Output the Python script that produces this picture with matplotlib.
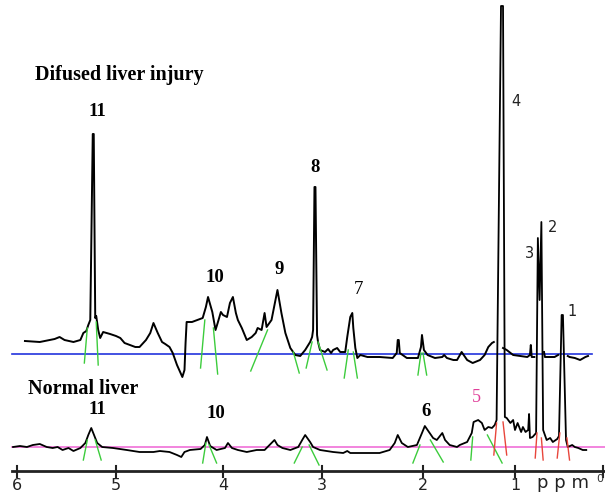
import numpy as np
import matplotlib
matplotlib.use('Agg')
import matplotlib.pyplot as plt

# ---- spectrum traces (ppm, intensity above own baseline) ----
injury_ppm = [5.92, 5.77, 5.62, 5.57, 5.52, 5.43, 5.36, 5.33, 5.30, 5.28, 5.26, 5.235, 5.225, 5.21, 5.20,
              5.18, 5.16, 5.13, 5.06, 5.00, 4.96, 4.92, 4.82, 4.78, 4.72, 4.68, 4.65, 4.61, 4.57, 4.54,
              4.50, 4.47, 4.43, 4.38, 4.36, 4.35, 4.34, 4.29, 4.24, 4.19, 4.16, 4.14, 4.10, 4.07, 4.05,
              4.02, 4.00, 3.96, 3.93, 3.90, 3.87, 3.85, 3.81, 3.76, 3.71, 3.67, 3.65, 3.61, 3.58, 3.56,
              3.51, 3.45, 3.41, 3.37, 3.32, 3.27, 3.22, 3.17, 3.12, 3.10, 3.09, 3.076, 3.066, 3.05, 3.04,
              3.02, 2.97, 2.94, 2.91, 2.89, 2.85, 2.82, 2.77, 2.75, 2.72, 2.70, 2.69, 2.67, 2.65, 2.62,
              2.55, 2.43, 2.30, 2.26, 2.25, 2.24, 2.23, 2.16, 2.05, 2.02, 2.01, 1.99, 1.95, 1.87, 1.79,
              1.77, 1.74, 1.67, 1.63, 1.58, 1.55, 1.52, 1.46, 1.38, 1.33, 1.29, 1.25, 1.23, np.nan,
              1.13, 1.09, 1.02, 0.94, 0.86, 0.83, 0.82, 0.81, 0.78, np.nan,
              0.67, 0.66, 0.60, 0.55, 0.51, np.nan, 0.40, 0.38, 0.32, 0.26, 0.20, 0.17]
injury_int = [13, 12, 15, 17, 14, 12, 14, 21, 23, 29, 34, 220, 220, 36, 38,
              24, 16, 22, 20, 18, 16, 11, 7, 7, 14, 21, 31, 21, 12, 10,
              7, 1, -11, -23, -16, 11, 32, 32, 34, 36, 47, 57, 42, 24, 31,
              42, 39, 37, 51, 57, 41, 34, 26, 14, 17, 21, 26, 24, 41, 27,
              34, 64, 41, 21, 6, -1, -2, 4, 12, 17, 24, 167, 167, 19, 12,
              4, 2, 5, 1, 4, 6, 2, 2, 17, 37, 41, 26, 6, -4, -1,
              -3, -3, -4, 1, 14, 14, 1, -4, -4, 7, 19, 4, -1, -4, -3,
              -1, -4, -6, -6, 2, -2, -6, -9, -6, -1, 7, 11, 12, np.nan,
              6, 4, -1, -2, -3, -1, 9, -3, -3, np.nan,
              2, -3, -3, -3, -1, np.nan, -2, -3, -4, -6, -3, -2]

normal_ppm = [6.04, 5.97, 5.90, 5.84, 5.77, 5.70, 5.64, 5.59, 5.54, 5.48, 5.43, 5.36, 5.31, 5.28, 5.25,
              5.23, 5.19, 5.14, 5.03, 4.90, 4.78, 4.65, 4.59, 4.50, 4.43, 4.39, 4.36, 4.31, 4.21, 4.17,
              4.15, 4.12, 4.06, 3.98, 3.95, 3.91, 3.85, 3.76, 3.66, 3.58, 3.53, 3.48, 3.45, 3.40, 3.32,
              3.24, 3.20, 3.17, 3.12, 3.09, 3.02, 2.89, 2.79, 2.75, 2.72, 2.55, 2.43, 2.33, 2.28, 2.25,
              2.21, 2.15, 2.06, 2.01, 1.98, 1.95, 1.89, 1.85, 1.79, 1.76, 1.71, 1.63, 1.60, 1.52, 1.47,
              1.45, 1.40, 1.36, 1.33, 1.29, 1.25, 1.22, 1.20, 1.152, 1.130, 1.11, 1.09, 1.05, 1.02, 1.00,
              0.97, 0.93, 0.91, 0.88, 0.85, 0.84, 0.83, 0.80, 0.76, 0.74, 0.72, 0.70, 0.68, 0.64, 0.60,
              0.57, 0.52, 0.50, 0.47, 0.455, 0.42, 0.40, 0.35, 0.32, 0.28, 0.23, 0.19]
normal_int = [0, 1, 0, 2, 3, 0, -1, 0, -3, -1, -4, -1, 4, 12, 19,
              14, 4, 0, -1, -3, -5, -5, -4, -5, -8, -10, -5, -3, -2, 2,
              10, 1, -3, -1, 4, -1, -3, -5, -3, -3, 2, 7, 2, -1, -3,
              0, 7, 12, 5, 0, -3, -5, -6, -4, -6, -6, -6, -3, 4, 12,
              4, 0, 2, 14, 21, 17, 9, 7, 14, 7, 2, 0, 2, 5, 14,
              25, 27, 24, 17, 20, 19, 22, 27, 441, 441, 30, 29, 24, 27, 17,
              24, 15, 20, 15, 17, 33, 9, 10, 14, 209, 147, 225, 17, 7, 9,
              5, 8, 11, 132, 132, 7, 0, 2, 0, -1, -3, -3]

# ---- integration marks: (ppm_start, int_start, ppm_end, int_end) ----
injury_marks = [(5.29, 26, 5.32, -9), (5.20, 32, 5.18, -11), (4.17, 34, 4.21, -14), (4.09, 26, 4.05, -20),
                (3.55, 24, 3.72, -17), (3.29, 2, 3.23, -19), (3.10, 12, 3.16, -14), (3.04, 12, 2.95, -16),
                (2.74, 4, 2.78, -24), (2.69, 2, 2.65, -24), (2.02, 1, 2.05, -21), (2.00, 1, 1.96, -21)]
normal_marks = [(5.29, 7, 5.33, -13), (5.21, 7, 5.15, -13), (4.16, 4, 4.19, -16), (4.13, 2, 4.06, -16),
                (3.20, 0, 3.28, -16), (3.13, 2, 3.03, -18), (2.03, 2, 2.10, -16), (1.92, 7, 1.78, -15),
                (1.46, 10, 1.48, -13), (1.30, 12, 1.14, -16)]
normal_red_marks = [(1.20, 24, 1.23, -8), (1.13, 25, 1.09, -8), (0.75, 14, 0.77, -11),
                    (0.70, 9, 0.68, -13), (0.49, 14, 0.52, -11), (0.41, 9, 0.38, -13)]

# ---- peak labels ----
injury_labels = ['11', '10', '9', '8', '7']
injury_label_ppm = [5.19, 4.08, 3.43, 3.07, 2.64]
injury_label_y = [242, 76, 84, 187, 64]
hand_labels = ['4', '2', '3', '1']
hand_label_ppm = [0.99, 0.57, 0.84, 0.35]
hand_label_y = [346, 219, 194, 136]
normal_labels = ['11', '10', '6']
normal_label_ppm = [5.19, 4.07, 1.97]
normal_label_y = [37, 34, 36]

tick_ppm = [6, 5, 4, 3, 2, 1]

# hand-drawn ppm axis is not evenly spaced: calibration of ppm to drawing position
cal_ppm = np.array([-1, 0, 1, 2, 3, 4, 5, 6, 7])
cal_pos = -np.array([691, 603, 515, 423, 322, 223, 116, 17, -82])


def forward(v):
    return np.interp(v, cal_ppm, cal_pos)


def inverse(u):
    return np.interp(u, cal_pos, cal_ppm)


OFFSET = 93  # vertical shift of the injury spectrum
SERIF = ['Liberation Serif', 'DejaVu Serif']

fig = plt.figure(figsize=(6.05, 4.95), dpi=100)
ax = fig.add_axes([0, 0, 1, 1])
ax.set_xscale('function', functions=(forward, inverse))
ax.set_xlim(6.172, -0.023)
ax.set_ylim(-48, 447)
ax.axis('off')

# baselines
ax.plot([6.05, 0.125], [OFFSET, OFFSET], color='#2233dd', lw=1.2, zorder=1)
ax.plot([6.05, -0.1], [0, 0], color='#f070d8', lw=1.2, zorder=1)

# spectra
ax.plot(injury_ppm, np.array(injury_int) + OFFSET, color='black', lw=1.4, zorder=3)
ax.plot(normal_ppm, normal_int, color='black', lw=1.3, zorder=3)

# integration marks
for x0, y0, x1, y1 in injury_marks:
    ax.plot([x0, x1], [y0 + OFFSET, y1 + OFFSET], color='#3ccc3c', lw=1.0, zorder=4)
for x0, y0, x1, y1 in normal_marks:
    ax.plot([x0, x1], [y0, y1], color='#3ccc3c', lw=1.0, zorder=4)
for x0, y0, x1, y1 in normal_red_marks:
    ax.plot([x0, x1], [y0, y1], color='#e8463c', lw=1.0, zorder=4)

# ppm axis
ax.plot([6.05, -0.1], [-24, -24], color='#222222', lw=2.0, zorder=2)
for t in tick_ppm + [0]:
    ax.plot([t, t], [-19, -30], color='#222222', lw=1.5)
for t in tick_ppm:
    ax.text(t, -39, str(t), ha='center', va='center', fontsize=11.5, color='#222222')
ax.text(0, -32, '0', ha='right', va='center', fontsize=8, color='#333333')
ax.text(0.45, -36, 'p p m', ha='center', va='center', fontsize=13, color='#222222')

# titles
ax.text(5.82, 372, 'Difused liver injury', ha='left', va='center', fontsize=14.5,
        fontweight='bold', family=SERIF)
ax.text(5.89, 58, 'Normal liver', ha='left', va='center', fontsize=14.5,
        fontweight='bold', family=SERIF)

for lab, x, y in zip(injury_labels, injury_label_ppm, injury_label_y):
    ax.text(x, y + OFFSET, lab, ha='center', va='center', fontsize=13.5,
            fontweight='normal' if lab == '7' else 'bold', family=SERIF)
for lab, x, y in zip(normal_labels, normal_label_ppm, normal_label_y):
    ax.text(x, y, lab, ha='center', va='center', fontsize=13.5, fontweight='bold', family=SERIF)
ax.text(1.42, 49, '5', ha='center', va='center', fontsize=13, color='#e0409a', family=SERIF)
for lab, x, y in zip(hand_labels, hand_label_ppm, hand_label_y):
    ax.text(x, y, lab, ha='center', va='center', fontsize=10.5, color='#222222')

fig.savefig('out.png', dpi=100)
